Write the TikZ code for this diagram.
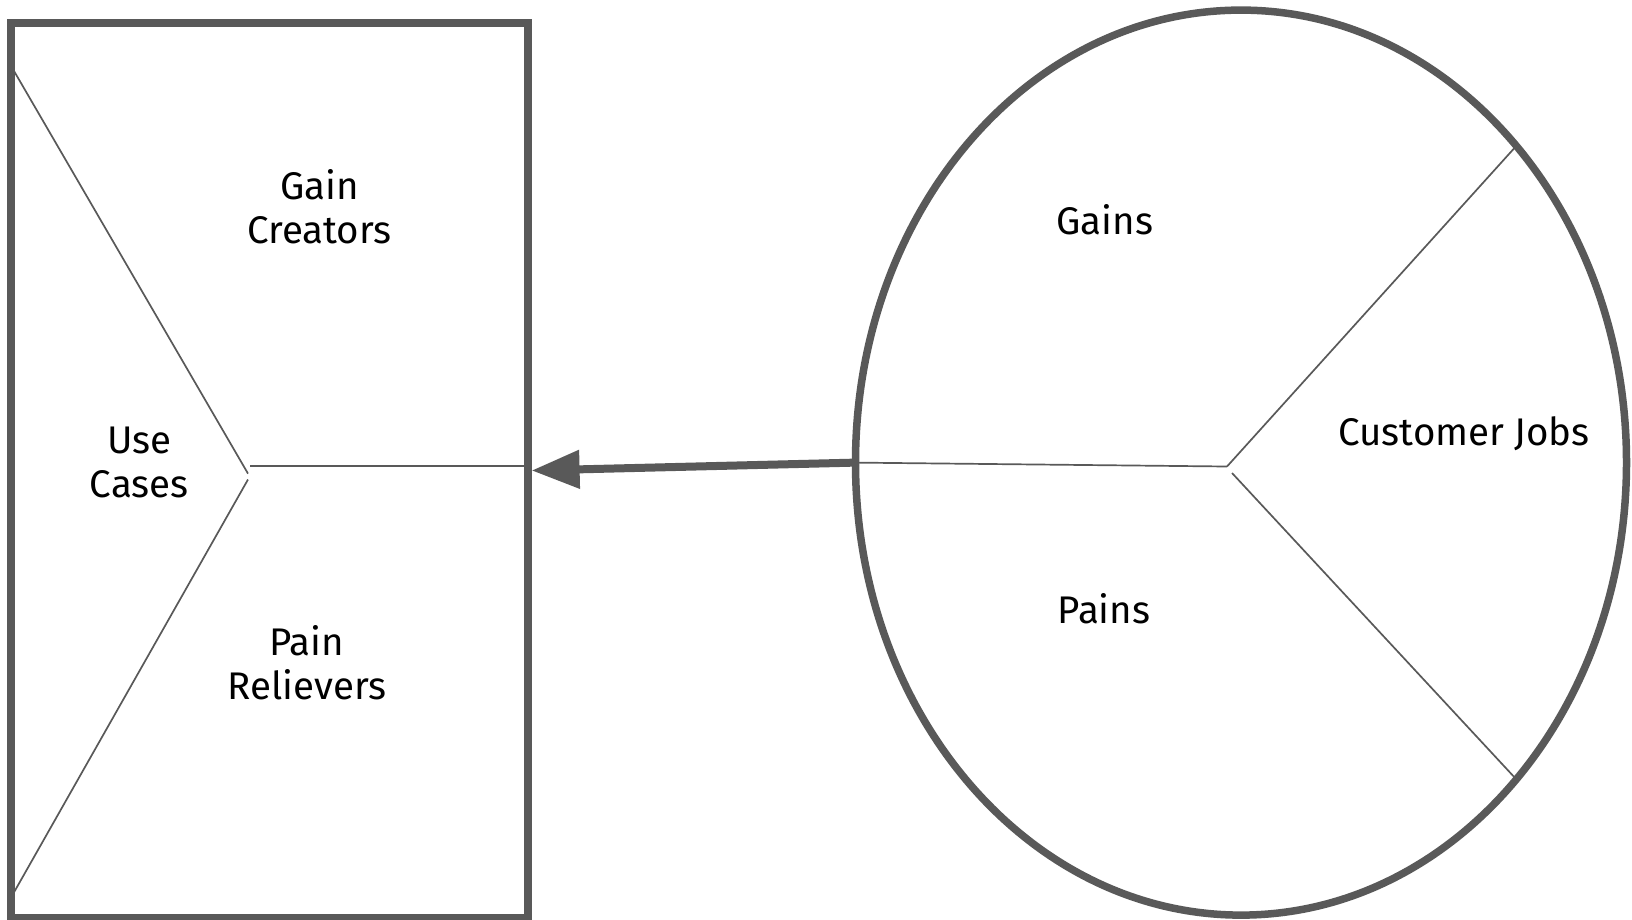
\documentclass[tikz,border=0pt]{standalone}
\usepackage{fontspec}
\setmainfont{Fira Sans}
\usetikzlibrary{shapes.geometric, arrows.meta, positioning}
\definecolor{edge}{HTML}{595959}

\begin{document}
\begin{tikzpicture}[x=1pt, y=-1pt,
  every node/.style={font=\fontsize{38.5}{44}\selectfont, align=center},
  frame/.style={draw=edge, line width=7.5pt, inner sep=0pt, outer sep=0pt},
  divider/.style={draw=edge, line width=1.7pt},
  fitarr/.style={-{Triangle[length=48pt, width=37pt]}, line width=8pt, edge}
]
  \useasboundingbox (0,0) rectangle (1632,919);
  \node[frame, rectangle, minimum width=517pt, minimum height=895pt] (prop) at (269.4,470.5) {};
  \node[frame, ellipse, minimum width=771pt, minimum height=905pt] (cust) at (1241,462.6) {};

  \coordinate (ucTop) at (13.6,70.3);
  \coordinate (ucTipA) at (248,473.6);
  \coordinate (ucTipB) at (248,479.5);
  \coordinate (ucBot) at (13.6,893);
  \coordinate (ucMid) at (250,466);
  \draw[divider] (ucTop) -- (ucTipA);
  \draw[divider] (ucTipB) -- (ucBot);
  \draw[divider] (ucMid) -- (prop.east |- ucMid);

  \coordinate (hubA) at (1227,466.5);
  \coordinate (hubB) at (1232,473);
  \draw[divider] (cust.west) -- (hubA);
  \draw[divider] (hubA) -- (cust.49.5);
  \draw[divider] (hubB) -- (cust.-49.8);

  \node (gaincr) at (319.5,206.6) {Gain\\Creators};
  \node (usecase) at (139.3,462.5) {Use\\Cases};
  \node (painrl) at (307,662.7) {Pain\\Relievers};
  \node (gains) at (1105,219.6) {Gains};
  \node (jobs) at (1464,434) {Customer Jobs};
  \node (pains) at (1104,609) {Pains};

  \draw[fitarr] (cust.west) -- ([xshift=3.7pt]prop.east);
\end{tikzpicture}
\end{document}
